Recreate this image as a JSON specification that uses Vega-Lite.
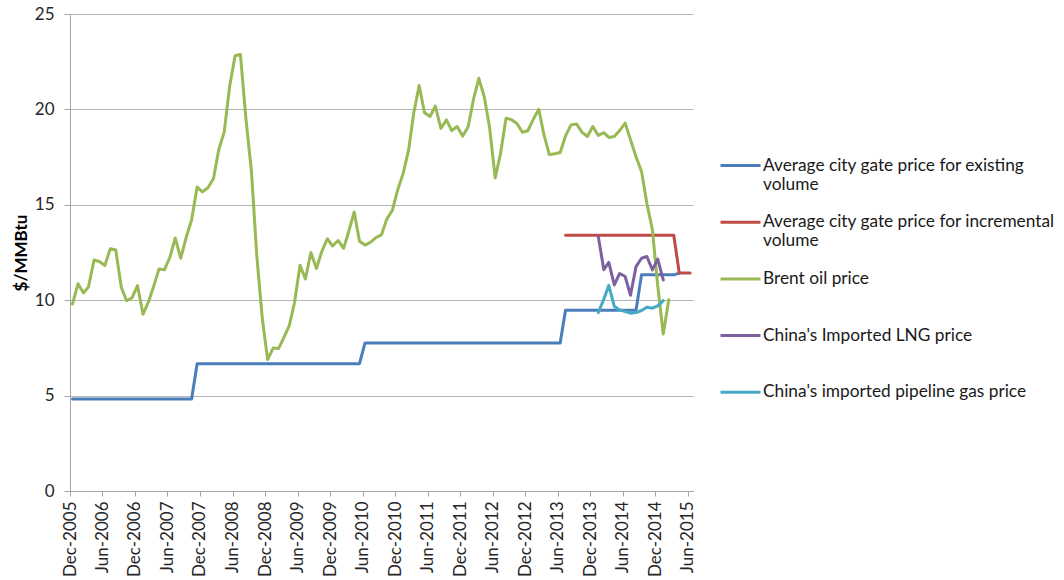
{
  "$schema": "https://vega.github.io/schema/vega-lite/v6.json",
  "autosize": {"type": "none"},
  "padding": {"left": 70, "top": 14, "right": 371, "bottom": 89},
  "width": 623,
  "height": 477,
  "config": {
    "font": "Lato",
    "view": {"stroke": null},
    "axis": {"labelFont": "Lato", "labelFontSize": 17, "labelColor": "#262626", "domainColor": "#a6a6a6", "tickColor": "#a6a6a6", "gridColor": "#b5b5b5"},
    "legend": {"labelFont": "Lato", "labelFontSize": 17.3, "labelColor": "#1a1a1a"}
  },
  "data": {
    "values": [
      {"d": "2005-12-15", "s": "Average city gate price for existing volume", "v": 4.82},
      {"d": "2007-10-15", "s": "Average city gate price for existing volume", "v": 4.82},
      {"d": "2007-11-15", "s": "Average city gate price for existing volume", "v": 6.67},
      {"d": "2010-05-15", "s": "Average city gate price for existing volume", "v": 6.67},
      {"d": "2010-06-15", "s": "Average city gate price for existing volume", "v": 7.76},
      {"d": "2013-06-15", "s": "Average city gate price for existing volume", "v": 7.76},
      {"d": "2013-07-15", "s": "Average city gate price for existing volume", "v": 9.47},
      {"d": "2014-08-15", "s": "Average city gate price for existing volume", "v": 9.47},
      {"d": "2014-09-15", "s": "Average city gate price for existing volume", "v": 11.33},
      {"d": "2015-03-15", "s": "Average city gate price for existing volume", "v": 11.33},
      {"d": "2015-04-15", "s": "Average city gate price for existing volume", "v": 11.42},
      {"d": "2013-07-15", "s": "Average city gate price for incremental volume", "v": 13.4},
      {"d": "2015-03-15", "s": "Average city gate price for incremental volume", "v": 13.4},
      {"d": "2015-04-15", "s": "Average city gate price for incremental volume", "v": 11.42},
      {"d": "2015-06-15", "s": "Average city gate price for incremental volume", "v": 11.42},
      {"d": "2005-12-15", "s": "Brent oil price", "v": 9.80},
      {"d": "2006-01-15", "s": "Brent oil price", "v": 10.86},
      {"d": "2006-02-15", "s": "Brent oil price", "v": 10.38},
      {"d": "2006-03-15", "s": "Brent oil price", "v": 10.70},
      {"d": "2006-04-15", "s": "Brent oil price", "v": 12.11},
      {"d": "2006-05-15", "s": "Brent oil price", "v": 12.03},
      {"d": "2006-06-15", "s": "Brent oil price", "v": 11.82},
      {"d": "2006-07-15", "s": "Brent oil price", "v": 12.70},
      {"d": "2006-08-15", "s": "Brent oil price", "v": 12.63},
      {"d": "2006-09-15", "s": "Brent oil price", "v": 10.68},
      {"d": "2006-10-15", "s": "Brent oil price", "v": 9.97},
      {"d": "2006-11-15", "s": "Brent oil price", "v": 10.13},
      {"d": "2006-12-15", "s": "Brent oil price", "v": 10.77},
      {"d": "2007-01-15", "s": "Brent oil price", "v": 9.26},
      {"d": "2007-02-15", "s": "Brent oil price", "v": 9.92},
      {"d": "2007-03-15", "s": "Brent oil price", "v": 10.70},
      {"d": "2007-04-15", "s": "Brent oil price", "v": 11.64},
      {"d": "2007-05-15", "s": "Brent oil price", "v": 11.59},
      {"d": "2007-06-15", "s": "Brent oil price", "v": 12.25},
      {"d": "2007-07-15", "s": "Brent oil price", "v": 13.26},
      {"d": "2007-08-15", "s": "Brent oil price", "v": 12.20},
      {"d": "2007-09-15", "s": "Brent oil price", "v": 13.31},
      {"d": "2007-10-15", "s": "Brent oil price", "v": 14.20},
      {"d": "2007-11-15", "s": "Brent oil price", "v": 15.93},
      {"d": "2007-12-15", "s": "Brent oil price", "v": 15.68},
      {"d": "2008-01-15", "s": "Brent oil price", "v": 15.89},
      {"d": "2008-02-15", "s": "Brent oil price", "v": 16.38},
      {"d": "2008-03-15", "s": "Brent oil price", "v": 17.87},
      {"d": "2008-04-15", "s": "Brent oil price", "v": 18.81},
      {"d": "2008-05-15", "s": "Brent oil price", "v": 21.17},
      {"d": "2008-06-15", "s": "Brent oil price", "v": 22.81},
      {"d": "2008-07-15", "s": "Brent oil price", "v": 22.88},
      {"d": "2008-08-15", "s": "Brent oil price", "v": 19.52},
      {"d": "2008-09-15", "s": "Brent oil price", "v": 16.76},
      {"d": "2008-10-15", "s": "Brent oil price", "v": 12.34},
      {"d": "2008-11-15", "s": "Brent oil price", "v": 9.04},
      {"d": "2008-12-15", "s": "Brent oil price", "v": 6.89},
      {"d": "2009-01-15", "s": "Brent oil price", "v": 7.49},
      {"d": "2009-02-15", "s": "Brent oil price", "v": 7.47},
      {"d": "2009-03-15", "s": "Brent oil price", "v": 8.02},
      {"d": "2009-04-15", "s": "Brent oil price", "v": 8.65},
      {"d": "2009-05-15", "s": "Brent oil price", "v": 9.88},
      {"d": "2009-06-15", "s": "Brent oil price", "v": 11.83},
      {"d": "2009-07-15", "s": "Brent oil price", "v": 11.11},
      {"d": "2009-08-15", "s": "Brent oil price", "v": 12.50},
      {"d": "2009-09-15", "s": "Brent oil price", "v": 11.66},
      {"d": "2009-10-15", "s": "Brent oil price", "v": 12.55},
      {"d": "2009-11-15", "s": "Brent oil price", "v": 13.22},
      {"d": "2009-12-15", "s": "Brent oil price", "v": 12.84},
      {"d": "2010-01-15", "s": "Brent oil price", "v": 13.13},
      {"d": "2010-02-15", "s": "Brent oil price", "v": 12.72},
      {"d": "2010-03-15", "s": "Brent oil price", "v": 13.59},
      {"d": "2010-04-15", "s": "Brent oil price", "v": 14.62},
      {"d": "2010-05-15", "s": "Brent oil price", "v": 13.09},
      {"d": "2010-06-15", "s": "Brent oil price", "v": 12.89},
      {"d": "2010-07-15", "s": "Brent oil price", "v": 13.03},
      {"d": "2010-08-15", "s": "Brent oil price", "v": 13.28},
      {"d": "2010-09-15", "s": "Brent oil price", "v": 13.42},
      {"d": "2010-10-15", "s": "Brent oil price", "v": 14.25},
      {"d": "2010-11-15", "s": "Brent oil price", "v": 14.70},
      {"d": "2010-12-15", "s": "Brent oil price", "v": 15.77},
      {"d": "2011-01-15", "s": "Brent oil price", "v": 16.64},
      {"d": "2011-02-15", "s": "Brent oil price", "v": 17.88},
      {"d": "2011-03-15", "s": "Brent oil price", "v": 19.77},
      {"d": "2011-04-15", "s": "Brent oil price", "v": 21.25},
      {"d": "2011-05-15", "s": "Brent oil price", "v": 19.83},
      {"d": "2011-06-15", "s": "Brent oil price", "v": 19.63},
      {"d": "2011-07-15", "s": "Brent oil price", "v": 20.17},
      {"d": "2011-08-15", "s": "Brent oil price", "v": 19.00},
      {"d": "2011-09-15", "s": "Brent oil price", "v": 19.45},
      {"d": "2011-10-15", "s": "Brent oil price", "v": 18.89},
      {"d": "2011-11-15", "s": "Brent oil price", "v": 19.10},
      {"d": "2011-12-15", "s": "Brent oil price", "v": 18.60},
      {"d": "2012-01-15", "s": "Brent oil price", "v": 19.08},
      {"d": "2012-02-15", "s": "Brent oil price", "v": 20.57},
      {"d": "2012-03-15", "s": "Brent oil price", "v": 21.63},
      {"d": "2012-04-15", "s": "Brent oil price", "v": 20.65},
      {"d": "2012-05-15", "s": "Brent oil price", "v": 19.02},
      {"d": "2012-06-15", "s": "Brent oil price", "v": 16.41},
      {"d": "2012-07-15", "s": "Brent oil price", "v": 17.69},
      {"d": "2012-08-15", "s": "Brent oil price", "v": 19.54},
      {"d": "2012-09-15", "s": "Brent oil price", "v": 19.46},
      {"d": "2012-10-15", "s": "Brent oil price", "v": 19.26},
      {"d": "2012-11-15", "s": "Brent oil price", "v": 18.80},
      {"d": "2012-12-15", "s": "Brent oil price", "v": 18.88},
      {"d": "2013-01-15", "s": "Brent oil price", "v": 19.48},
      {"d": "2013-02-15", "s": "Brent oil price", "v": 20.01},
      {"d": "2013-03-15", "s": "Brent oil price", "v": 18.70},
      {"d": "2013-04-15", "s": "Brent oil price", "v": 17.63},
      {"d": "2013-05-15", "s": "Brent oil price", "v": 17.68},
      {"d": "2013-06-15", "s": "Brent oil price", "v": 17.74},
      {"d": "2013-07-15", "s": "Brent oil price", "v": 18.61},
      {"d": "2013-08-15", "s": "Brent oil price", "v": 19.19},
      {"d": "2013-09-15", "s": "Brent oil price", "v": 19.24},
      {"d": "2013-10-15", "s": "Brent oil price", "v": 18.81},
      {"d": "2013-11-15", "s": "Brent oil price", "v": 18.58},
      {"d": "2013-12-15", "s": "Brent oil price", "v": 19.10},
      {"d": "2014-01-15", "s": "Brent oil price", "v": 18.64},
      {"d": "2014-02-15", "s": "Brent oil price", "v": 18.78},
      {"d": "2014-03-15", "s": "Brent oil price", "v": 18.53},
      {"d": "2014-04-15", "s": "Brent oil price", "v": 18.58},
      {"d": "2014-05-15", "s": "Brent oil price", "v": 18.89},
      {"d": "2014-06-15", "s": "Brent oil price", "v": 19.28},
      {"d": "2014-07-15", "s": "Brent oil price", "v": 18.41},
      {"d": "2014-08-15", "s": "Brent oil price", "v": 17.52},
      {"d": "2014-09-15", "s": "Brent oil price", "v": 16.74},
      {"d": "2014-10-15", "s": "Brent oil price", "v": 15.07},
      {"d": "2014-11-15", "s": "Brent oil price", "v": 13.70},
      {"d": "2014-12-15", "s": "Brent oil price", "v": 10.75},
      {"d": "2015-01-15", "s": "Brent oil price", "v": 8.23},
      {"d": "2015-02-15", "s": "Brent oil price", "v": 10.02},
      {"d": "2014-01-15", "s": "China's Imported LNG price", "v": 13.34},
      {"d": "2014-02-15", "s": "China's Imported LNG price", "v": 11.60},
      {"d": "2014-03-15", "s": "China's Imported LNG price", "v": 11.98},
      {"d": "2014-04-15", "s": "China's Imported LNG price", "v": 10.80},
      {"d": "2014-05-15", "s": "China's Imported LNG price", "v": 11.40},
      {"d": "2014-06-15", "s": "China's Imported LNG price", "v": 11.24},
      {"d": "2014-07-15", "s": "China's Imported LNG price", "v": 10.26},
      {"d": "2014-08-15", "s": "China's Imported LNG price", "v": 11.76},
      {"d": "2014-09-15", "s": "China's Imported LNG price", "v": 12.20},
      {"d": "2014-10-15", "s": "China's Imported LNG price", "v": 12.29},
      {"d": "2014-11-15", "s": "China's Imported LNG price", "v": 11.59},
      {"d": "2014-12-15", "s": "China's Imported LNG price", "v": 12.15},
      {"d": "2015-01-15", "s": "China's Imported LNG price", "v": 11.06},
      {"d": "2014-01-15", "s": "China's imported pipeline gas price", "v": 9.35},
      {"d": "2014-02-15", "s": "China's imported pipeline gas price", "v": 10.05},
      {"d": "2014-03-15", "s": "China's imported pipeline gas price", "v": 10.78},
      {"d": "2014-04-15", "s": "China's imported pipeline gas price", "v": 9.68},
      {"d": "2014-05-15", "s": "China's imported pipeline gas price", "v": 9.49},
      {"d": "2014-06-15", "s": "China's imported pipeline gas price", "v": 9.40},
      {"d": "2014-07-15", "s": "China's imported pipeline gas price", "v": 9.32},
      {"d": "2014-08-15", "s": "China's imported pipeline gas price", "v": 9.35},
      {"d": "2014-09-15", "s": "China's imported pipeline gas price", "v": 9.46},
      {"d": "2014-10-15", "s": "China's imported pipeline gas price", "v": 9.63},
      {"d": "2014-11-15", "s": "China's imported pipeline gas price", "v": 9.58},
      {"d": "2014-12-15", "s": "China's imported pipeline gas price", "v": 9.70},
      {"d": "2015-01-15", "s": "China's imported pipeline gas price", "v": 9.98}
    ]
  },
  "mark": {"type": "line", "strokeWidth": 3, "strokeJoin": "round", "strokeCap": "round"},
  "encoding": {
    "x": {
      "field": "d", "type": "temporal",
      "scale": {"type": "utc", "domain": [{"year": 2005, "month": 12, "date": 1, "utc": true}, {"year": 2015, "month": 7, "date": 1, "utc": true}]},
      "axis": {
        "title": null, "grid": false, "format": "%b-%Y", "labelAngle": 270,
        "tickSize": 5, "labelPadding": 5, "labelOverlap": false,
        "values": [
          {"year": 2005, "month": 12, "date": 1, "utc": true},
          {"year": 2006, "month": 6, "date": 1, "utc": true},
          {"year": 2006, "month": 12, "date": 1, "utc": true},
          {"year": 2007, "month": 6, "date": 1, "utc": true},
          {"year": 2007, "month": 12, "date": 1, "utc": true},
          {"year": 2008, "month": 6, "date": 1, "utc": true},
          {"year": 2008, "month": 12, "date": 1, "utc": true},
          {"year": 2009, "month": 6, "date": 1, "utc": true},
          {"year": 2009, "month": 12, "date": 1, "utc": true},
          {"year": 2010, "month": 6, "date": 1, "utc": true},
          {"year": 2010, "month": 12, "date": 1, "utc": true},
          {"year": 2011, "month": 6, "date": 1, "utc": true},
          {"year": 2011, "month": 12, "date": 1, "utc": true},
          {"year": 2012, "month": 6, "date": 1, "utc": true},
          {"year": 2012, "month": 12, "date": 1, "utc": true},
          {"year": 2013, "month": 6, "date": 1, "utc": true},
          {"year": 2013, "month": 12, "date": 1, "utc": true},
          {"year": 2014, "month": 6, "date": 1, "utc": true},
          {"year": 2014, "month": 12, "date": 1, "utc": true},
          {"year": 2015, "month": 6, "date": 1, "utc": true}
        ]
      }
    },
    "y": {
      "field": "v", "type": "quantitative",
      "scale": {"domain": [0, 25], "nice": false},
      "axis": {
        "title": "$/MMBtu", "titleFontSize": 17, "titleFontWeight": "bold", "titleColor": "#000000",
        "titlePadding": 4, "values": [0, 5, 10, 15, 20, 25], "tickSize": 6, "labelPadding": 10, "grid": true
      }
    },
    "color": {
      "field": "s", "type": "nominal",
      "scale": {
        "domain": ["Average city gate price for existing volume", "Average city gate price for incremental volume", "Brent oil price", "China's Imported LNG price", "China's imported pipeline gas price"],
        "range": ["#4A7EBB", "#BE4B48", "#98B954", "#7D60A0", "#46AAC5"]
      },
      "legend": {
        "orient": "none", "legendX": 649, "legendY": 130, "title": null, "padding": 0,
        "symbolType": "stroke", "symbolSize": 1600, "symbolStrokeWidth": 3,
        "labelOffset": 1, "rowPadding": 6.7, "labelLimit": 400,
        "labelExpr": "indexof(datum.label, ' volume') > 0 ? [replace(datum.label, ' volume', ''), 'volume'] : [datum.label, '']"
      }
    }
  }
}
